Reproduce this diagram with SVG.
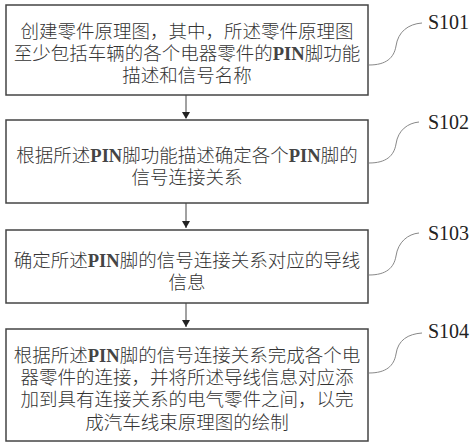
<svg xmlns="http://www.w3.org/2000/svg" width="474" height="447" viewBox="0 0 474 447">
<defs>
<style>
.box{fill:#fff;stroke:#444;stroke-width:1.5}
.t{font-family:"Liberation Serif","Noto Sans CJK SC",serif;font-size:18.5px;font-weight:300;fill:#333;text-anchor:middle}
.p{font-family:"Liberation Serif",serif;font-weight:bold;fill:#444}
.lbl{font-family:"Liberation Serif",serif;font-size:20px;fill:#222}
.cv{fill:none;stroke:#888;stroke-width:1}
.ar{stroke:#444;stroke-width:1;fill:none}
</style>
</defs>
<rect width="474" height="447" fill="#fff"/>
<g id="connectors">
<line class="ar" x1="186" y1="95" x2="186" y2="118"/>
<path d="M182,112 L190,112 L186,119 Z" fill="#222"/>
<line class="ar" x1="186" y1="203" x2="186" y2="228"/>
<path d="M182,221 L190,221 L186,228 Z" fill="#222"/>
<line class="ar" x1="186" y1="303" x2="186" y2="327"/>
<path d="M182,320 L190,320 L186,327 Z" fill="#222"/>
<path class="cv" d="M369,65 C386,65 394,58 396,46 C398,32 408,24 422,23"/>
<path class="cv" d="M369,163 C386,163 394,156 396,144 C398,130 408,123 419,122"/>
<path class="cv" d="M369,275 C386,275 394,268 396,256 C398,242 408,234 419,233"/>
<path class="cv" d="M369,373 C386,373 394,366 396,354 C398,340 408,334 422,333"/>
</g>
<g id="s101">
<rect class="box" x="6" y="5" width="362" height="90"/>
<text class="t" x="187" y="38">创建零件原理图，其中，所述零件原理图</text>
<text class="t" x="187" y="60">至少包括车辆的各个电器零件的<tspan class="p">PIN</tspan>脚功能</text>
<text class="t" x="187" y="82">描述和信号名称</text>
<text class="lbl" x="428" y="29">S101</text>
</g>
<g id="s102">
<rect class="box" x="6" y="120" width="362" height="83"/>
<text class="t" x="187" y="162">根据所述<tspan class="p">PIN</tspan>脚功能描述确定各个<tspan class="p">PIN</tspan>脚的</text>
<text class="t" x="187" y="184">信号连接关系</text>
<text class="lbl" x="428" y="129">S102</text>
</g>
<g id="s103">
<rect class="box" x="6" y="230" width="362" height="73"/>
<text class="t" x="187" y="267">确定所述<tspan class="p">PIN</tspan>脚的信号连接关系对应的导线</text>
<text class="t" x="187" y="289">信息</text>
<text class="lbl" x="428" y="240">S103</text>
</g>
<g id="s104">
<rect class="box" x="6" y="329" width="362" height="112"/>
<text class="t" x="187" y="362">根据所述<tspan class="p">PIN</tspan>脚的信号连接关系完成各个电</text>
<text class="t" x="187" y="384">器零件的连接，并将所述导线信息对应添</text>
<text class="t" x="187" y="406">加到具有连接关系的电气零件之间，以完</text>
<text class="t" x="187" y="429">成汽车线束原理图的绘制</text>
<text class="lbl" x="428" y="338">S104</text>
</g>
</svg>
